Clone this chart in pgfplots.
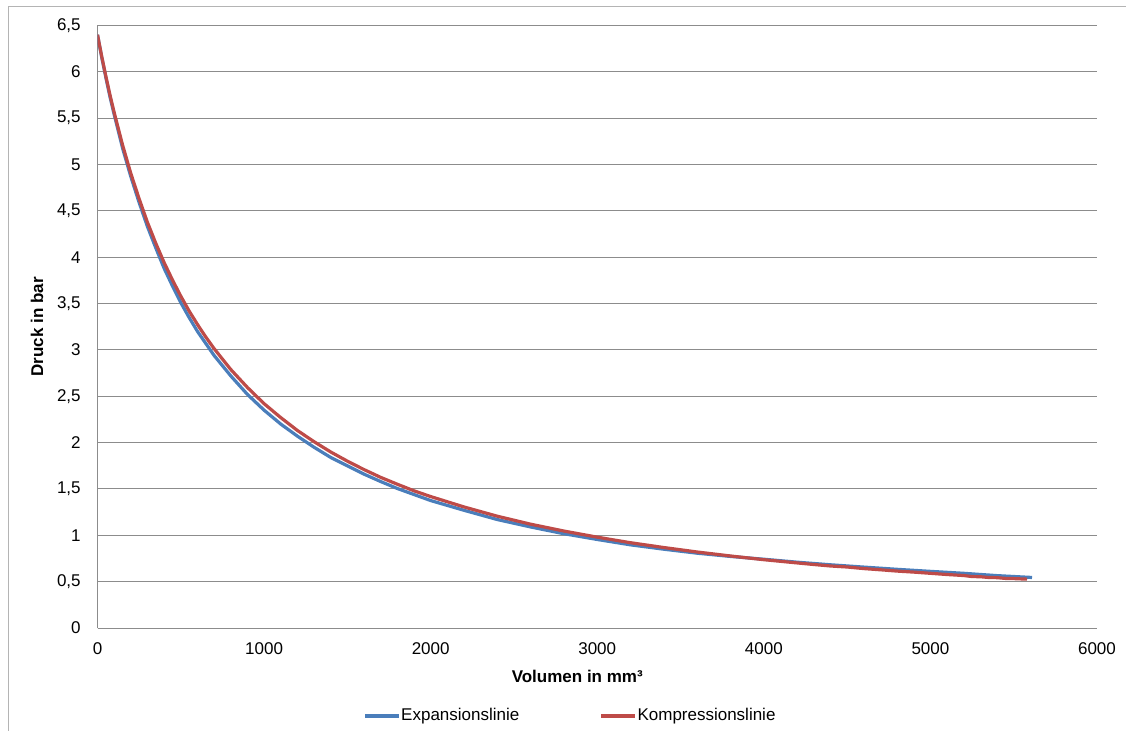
\documentclass[border=0pt]{standalone}
\usepackage{pgfplots}
\pgfplotsset{compat=1.18}
\usepackage{fontspec}
\setmainfont{Liberation Sans}
\definecolor{exblue}{HTML}{4A7EBB}
\definecolor{kored}{HTML}{BE4B48}
\definecolor{gridgray}{HTML}{8C8C8C}
\definecolor{framegray}{HTML}{B4B4B4}
\begin{document}
\fontsize{17bp}{20bp}\selectfont
\begin{tikzpicture}
\useasboundingbox (0,0) rectangle (1126bp,731bp);
\draw[framegray, line width=1bp] (8bp,0) -- (8bp,724bp) -- (1126bp,724bp);
\begin{axis}[
  at={(97.5bp,103bp)}, anchor=south west,
  scale only axis, width=999.5bp, height=602.5bp,
  xmin=0, xmax=6000, ymin=0, ymax=6.5,
  xtick={0,1000,...,6000}, ytick={0,0.5,...,6.5},
  axis x line*=bottom, axis y line*=left,
  axis line style={gridgray, line width=1bp, -},
  ymajorgrids, grid style={gridgray, line width=1bp},
  major tick length=0pt,
  /pgf/number format/assume math mode=true,
  /pgf/number format/use comma,
  /pgf/number format/1000 sep={},
  ticklabel style={font=\fontsize{17bp}{20bp}\selectfont},
  yticklabel style={xshift=-11bp},
  xticklabel style={yshift=-9bp},
  xlabel={\textbf{Volumen in mm³}},
  ylabel={\textbf{Druck in bar}},
  xlabel style={at={(axis description cs:0.48,-0.08)}, anchor=center, font=\fontsize{17bp}{20bp}\selectfont},
  ylabel style={at={(axis description cs:-0.0605,0.5)}, anchor=center, rotate=0, font=\fontsize{17bp}{20bp}\selectfont},
  legend style={at={(axis description cs:0.4725,-0.146)}, anchor=center, draw=none, fill=none,
    font=\fontsize{17bp}{20bp}\selectfont, legend columns=2,
    /tikz/every even column/.append style={column sep=80bp},
    inner sep=0pt, nodes={inner sep=0.5bp}},
  legend cell align=left,
  legend image code/.code={\draw[#1] (0bp,0bp) -- (34bp,0bp);},
]
\addplot[exblue, line width=3.2bp, line join=round] coordinates {
(0,6.40) (25,6.16) (50,5.94) (75,5.73) (100,5.54) (150,5.18) (200,4.87) (250,4.59) (300,4.33) (350,4.10) (400,3.88) (450,3.69) (500,3.51) (550,3.35) (600,3.20) (650,3.07) (700,2.94) (800,2.72) (900,2.52) (1000,2.35) (1100,2.20) (1200,2.07) (1300,1.95) (1400,1.84) (1500,1.75) (1600,1.66) (1700,1.58) (1800,1.505) (1900,1.44) (2000,1.375) (2200,1.27) (2400,1.17) (2600,1.09) (2800,1.017) (3000,0.955) (3200,0.897) (3400,0.850) (3600,0.807) (3800,0.772) (4000,0.742) (4200,0.710) (4400,0.682) (4600,0.657) (4800,0.633) (5000,0.611) (5200,0.590) (5400,0.565) (5610,0.545)
};
\addlegendentry{Expansionslinie}
\addplot[kored, line width=3.2bp, line join=round] coordinates {
(0,6.40) (25,6.17) (50,5.954) (75,5.75) (100,5.562) (150,5.214) (200,4.904) (250,4.63) (300,4.375) (350,4.15) (400,3.942) (450,3.755) (500,3.580) (550,3.42) (600,3.275) (650,3.14) (700,3.014) (800,2.789) (900,2.595) (1000,2.420) (1100,2.27) (1200,2.131) (1300,2.01) (1400,1.899) (1500,1.80) (1600,1.709) (1700,1.625) (1800,1.551) (1900,1.48) (2000,1.418) (2200,1.306) (2400,1.206) (2600,1.12) (2800,1.046) (3000,0.980) (3200,0.920) (3400,0.868) (3600,0.820) (3800,0.777) (4000,0.737) (4200,0.702) (4300,0.685) (4400,0.669) (4500,0.658) (4600,0.641) (4700,0.628) (4800,0.614) (4900,0.603) (5000,0.590) (5100,0.577) (5200,0.566) (5250,0.555) (5300,0.553) (5350,0.545) (5400,0.543) (5450,0.535) (5500,0.533) (5580,0.527)
};
\addlegendentry{Kompressionslinie}
\end{axis}
\end{tikzpicture}
\end{document}
